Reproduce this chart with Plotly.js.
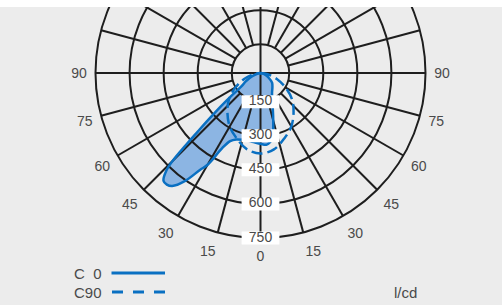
<!DOCTYPE html>
<html>
<head>
<meta charset="utf-8">
<script src="https://cdn.plot.ly/plotly-3.0.1.min.js"></script>
<style>
  html, body { margin: 0; padding: 0; background: #ffffff; overflow: hidden; width: 502px; height: 305px; }
  #wrap { position: absolute; top: 7px; left: 0; width: 502px; height: 298px; overflow: hidden; background: #ececec; }
  #chart { position: absolute; top: -110px; left: 0; width: 502px; height: 410px; }
</style>
</head>
<body>
<div id="wrap"><div id="chart"></div></div>
<script>
// ---- data (gamma in degrees: + = left half, - = right half; intensity in cd) ----
const c0Gamma = [-90,-80,-70,-60,-50,-40,-30,-20,-15,-10,-5,0,5,10,15,20,24,27,30,32,35,38,40,42,44,45,46,47,48,50,52,55,60,65,70,80,90];
const c0Value = [24,30,45,65,90,105,125,180,240,318,340,335,330,327,328,335,352,395,490,527,605,655,665,662,620,570,480,400,340,250,185,125,100,78,60,35,24];

const c90Gamma = [-90,-80,-70,-60,-50,-40,-30,-20,-10,0,10,20,30,40,50,60,70,80,90];
const c90Value = [24,55,100,150,205,250,295,330,365,378,365,330,295,250,205,150,100,55,24];

const radialTicks = [150, 300, 450, 600, 750];
const angleTicks = [0,15,30,45,60,75,90];
const legendNames = ['C\u00a0\u00a00', 'C90'];
const unitLabel = 'l/cd';

// ---- style ----
const blue = '#0a70c2';
const fillBlue = '#8cb5e3';
const gridColor = '#1e1e1e';
const textColor = '#4a4a4a';
const rMin = 23.5, rMax = 750;

// page -> paper helpers (div is 502x410, shifted so page y = div y - 103)
const W = 502, H = 410, SHIFT = 103;
const px = x => x / W;
const py = y => 1 - (y + SHIFT) / H;

// angular tick positions (left side theta = g, right side theta = 360-g)
const tickVals = [], tickText = [];
angleTicks.forEach(g => { tickVals.push(g); tickText.push(String(g)); if (g > 0) { tickVals.push(360 - g); tickText.push(String(g)); } });

// spokes: cross lines through center, others start at inner ring
const spokeR = [], spokeT = [];
for (let a = 0; a < 360; a += 15) {
  const full = (a % 90 === 0);
  spokeR.push(full ? rMin : radialTicks[0], rMax, null);
  spokeT.push(a, a, null);
}

const polarBase = {
  domain: { x: [px(260.5 - 165), px(260.5 + 165)], y: [1 - 341 / H, 1 - 11 / H] },
  bgcolor: 'rgba(0,0,0,0)'
};

const layout = {
  width: W, height: H,
  margin: { l: 0, r: 0, t: 0, b: 0 },
  paper_bgcolor: '#ececec',
  font: { family: 'Liberation Sans, Arial, sans-serif', size: 14, color: textColor },
  showlegend: false,
  polar: Object.assign({}, polarBase, {
    angularaxis: { rotation: -90, direction: 'clockwise', visible: false, showgrid: false, showline: false, showticklabels: false },
    radialaxis: { range: [rMin, rMax], visible: false, showgrid: false, showline: false, showticklabels: false }
  }),
  polar2: Object.assign({}, polarBase, {
    angularaxis: {
      rotation: -90, direction: 'clockwise', layer: 'below traces',
      showgrid: false, showline: true, linecolor: gridColor, linewidth: 2,
      ticks: 'outside', ticklen: 5, tickcolor: 'rgba(0,0,0,0)',
      tickmode: 'array', tickvals: tickVals, ticktext: tickText,
      tickfont: { size: 14, color: textColor }
    },
    radialaxis: {
      range: [rMin, rMax], layer: 'below traces', showline: false, showgrid: true, gridcolor: gridColor, gridwidth: 2,
      tickmode: 'array', tickvals: radialTicks, showticklabels: false, ticks: ''
    }
  }),
  shapes: [
    { type: 'line', xref: 'paper', yref: 'paper', x0: px(111.5), x1: px(165), y0: py(273), y1: py(273), line: { color: blue, width: 3 } },
    { type: 'line', xref: 'paper', yref: 'paper', x0: px(112), x1: px(165), y0: py(292), y1: py(292), line: { color: blue, width: 3, dash: '11px,10px' } }
  ],
  annotations: [
    { xref: 'paper', yref: 'paper', x: px(103.5), y: py(273), xanchor: 'right', yanchor: 'middle', text: legendNames[0], showarrow: false, font: { size: 15, color: textColor } },
    { xref: 'paper', yref: 'paper', x: px(103.5), y: py(292), xanchor: 'right', yanchor: 'middle', text: legendNames[1], showarrow: false, font: { size: 15, color: textColor } },
    { xref: 'paper', yref: 'paper', x: px(392), y: py(292), xanchor: 'left', yanchor: 'middle', text: unitLabel, showarrow: false, font: { size: 15, color: textColor } }
  ]
};

const traces = [
  { type: 'scatterpolar', subplot: 'polar', r: c0Value, theta: c0Gamma, mode: 'lines',
    line: { width: 0, shape: 'spline', color: fillBlue }, fill: 'toself', fillcolor: fillBlue, hoverinfo: 'skip' },
  { type: 'scatterpolar', subplot: 'polar2', r: spokeR, theta: spokeT, mode: 'lines',
    line: { color: gridColor, width: 2 }, hoverinfo: 'skip', connectgaps: false },
  { type: 'scatterpolar', subplot: 'polar2', r: c0Value, theta: c0Gamma, mode: 'lines', name: 'C0',
    line: { color: blue, width: 2.5, shape: 'spline' } },
  { type: 'scatterpolar', subplot: 'polar2', r: c90Value, theta: c90Gamma, mode: 'lines', name: 'C90',
    line: { color: blue, width: 2.5, shape: 'spline', dash: '11px,5px' } },
  { type: 'scatterpolar', subplot: 'polar2', r: radialTicks, theta: radialTicks.map(() => 0),
    mode: 'markers+text', text: radialTicks.map(String), textposition: 'middle center', cliponaxis: false,
    textfont: { size: 14, color: textColor },
    marker: { symbol: 'line-ew', size: 27, color: '#ffffff', line: { color: '#ffffff', width: 13 } }, hoverinfo: 'skip' }
];

Plotly.newPlot('chart', traces, layout, { staticPlot: true, displayModeBar: false });
</script>
</body>
</html>
